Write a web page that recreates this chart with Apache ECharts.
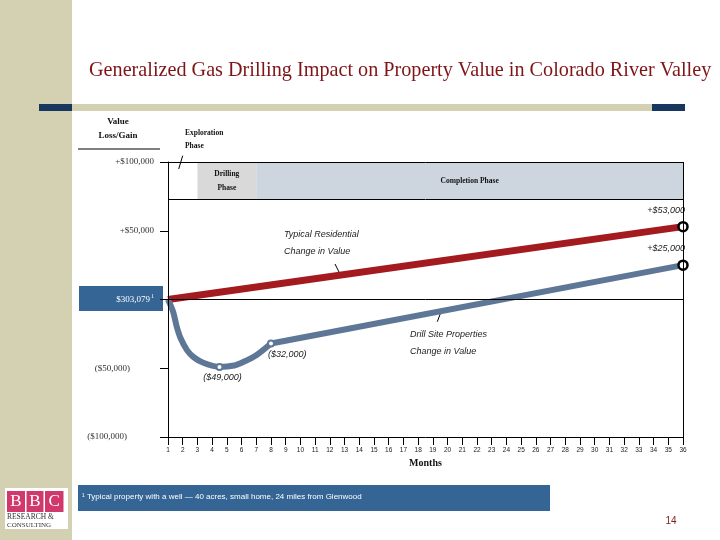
<!DOCTYPE html>
<html><head><meta charset="utf-8">
<script src="https://cdn.jsdelivr.net/npm/echarts@6/dist/echarts.min.js"></script>
<style>html,body{margin:0;padding:0;background:#fff}#c{width:720px;height:540px}</style>
</head><body><div id="c"></div>
<script>
// ---- data ----
const months = Array.from({length:36}, (_, i) => String(i + 1));
const residential = [[1, 0], [36, 53000]];
const drillCurve = [[1, 0], [1.35, -9000], [1.6, -20000], [1.85, -28000], [2.3, -37000], [2.75, -42000], [3.4, -46000], [4.5, -49000], [5.5, -48000], [6.1, -45500], [7, -40500], [8, -32000]];
const drillLinear = [[8, -32000], [36, 25000]];
const yTickLabels = {'100000': '+$100,000', '50000': '+$50,000', '0': '$303,079', '-50000': '($50,000)', '-100000': '($100,000)'};
const phaseNames = ['Drilling\nPhase', 'Completion Phase'];
const phaseStart = [3, 7];
const phaseEnd = [7, 36];
const phaseBand = [73000, 100000];
const refLinesY = [0, 73000, 100000];

const RED = '#a31a1f', BLUE = '#5f7796';
const fmt = v => Math.abs(v).toLocaleString('en-US');
const chart = echarts.init(document.getElementById('c'));

const serifB = {fontFamily: 'Liberation Serif', fontWeight: 'bold', color: '#111'};
const ital = {fontFamily: 'Liberation Sans', fontStyle: 'italic', fontSize: 9, color: '#222'};

function endItem(d) {
  return {value: d, symbol: 'circle', symbolSize: 9,
    itemStyle: {color: '#fff', borderColor: '#000', borderWidth: 2.5},
    label: {show: true, position: 'top', distance: 6, align: 'right', offset: [2, 0],
      formatter: p => (p.value[1] >= 0 ? '+$' : '($') + fmt(p.value[1]) + (p.value[1] >= 0 ? '' : ')'), ...ital}};
}
function midItem(d, lab) {
  return {value: d, symbol: 'circle', symbolSize: 6,
    itemStyle: {color: '#fff', borderColor: BLUE, borderWidth: 2},
    label: Object.assign({show: true, position: 'bottom', distance: 2,
      formatter: p => '($' + fmt(p.value[1]) + ')', ...ital}, lab)};
}

chart.setOption({
  animation: false,
  title: {text: 'Generalized Gas Drilling Impact on Property Value in Colorado River Valley',
    left: 84, top: 56, textStyle: {fontFamily: 'Liberation Serif', fontSize: 20.2, fontWeight: 'normal', color: '#7f1416'}},
  grid: {left: 168, right: 37, top: 162, bottom: 103, show: false},
  xAxis: {type: 'value', min: 1, max: 36, interval: 1,
    name: 'Months', nameLocation: 'middle', nameGap: 21,
    nameTextStyle: {fontFamily: 'Liberation Serif', fontWeight: 'bold', fontSize: 10, color: '#111'},
    axisLine: {onZero: false, lineStyle: {color: '#000', width: 1}},
    axisTick: {length: 8, lineStyle: {color: '#000'}},
    axisLabel: {margin: 10, fontSize: 6.5, color: '#222', fontFamily: 'Liberation Sans',
      formatter: v => months[v - 1] || ''},
    splitLine: {show: false}},
  yAxis: {type: 'value', min: -100000, max: 100000, interval: 50000, z: 10,
    axisLine: {show: true, lineStyle: {color: '#000', width: 1}},
    axisTick: {show: true, length: 8, lineStyle: {color: '#000'}},
    splitLine: {show: false},
    axisLabel: {margin: 14,
      formatter: v => {
        const t = yTickLabels[String(v)];
        if (v === 0) return '{z|' + t + '}{s|1}';
        if (v === -50000) return '{n1|' + t + '}';
        if (v === -100000) return '{n2|' + t + '}';
        return '{p|' + t + '}';
      },
      rich: {
        p: {fontFamily: 'Liberation Serif', fontSize: 9, color: '#333'},
        n1: {fontFamily: 'Liberation Serif', fontSize: 9, color: '#333', padding: [0, 24, 0, 0]},
        n2: {fontFamily: 'Liberation Serif', fontSize: 9, color: '#333', padding: [0, 27, 0, 0]},
        z: {fontFamily: 'Liberation Serif', fontSize: 9, color: '#fff'},
        s: {fontFamily: 'Liberation Serif', fontSize: 6, color: '#fff', padding: [0, 0, 6, 1]}
      }}},
  series: [
    {type: 'line', data: [[1, 0]], symbol: 'none', lineStyle: {width: 0}, z: 1, silent: true,
      markArea: {silent: true,
        label: {position: 'inside', fontSize: 7.5, lineHeight: 14, ...serifB},
        data: phaseNames.map((n, i) => [
          {name: n, xAxis: phaseStart[i], yAxis: phaseBand[0], itemStyle: {color: i === 0 ? '#d9d9d9' : '#cdd6df'}},
          {xAxis: phaseEnd[i], yAxis: phaseBand[1]}])}},
    {type: 'line', data: [[1, 0]], symbol: 'none', lineStyle: {width: 0}, z: 1, silent: true,
      markLine: {silent: true, symbol: 'none', label: {show: false},
        lineStyle: {color: '#000', width: 1, type: 'solid'},
        data: refLinesY.map(y => ({yAxis: y})).concat([{xAxis: 36}])}},
    {type: 'line', name: 'Typical Residential', z: 2, showSymbol: true, showAllSymbol: true,
      lineStyle: {color: RED, width: 7}, itemStyle: {color: RED},
      data: residential.map((d, i) => i === residential.length - 1 ? endItem(d) : {value: d, symbol: 'none'})},
    {type: 'line', name: 'Drill Site curve', z: 3, smooth: 0.3, showSymbol: true, showAllSymbol: true,
      lineStyle: {color: BLUE, width: 6}, itemStyle: {color: BLUE},
      data: drillCurve.map(d => d[0] === 4.5 ? midItem(d, {offset: [3, 0]}) : {value: d, symbol: 'none'})},
    {type: 'line', name: 'Drill Site linear', z: 3, showSymbol: true, showAllSymbol: true,
      lineStyle: {color: BLUE, width: 6}, itemStyle: {color: BLUE},
      data: drillLinear.map((d, i) => i === 0 ? midItem(d, {align: 'left', offset: [-3, 0]}) : endItem(d))}
  ],
  graphic: [
    {type: 'rect', shape: {x: 0, y: 0, width: 72, height: 540}, style: {fill: '#d3d1b1'}, z: -1},
    {type: 'rect', shape: {x: 72, y: 104, width: 580, height: 7}, style: {fill: '#d3d1b1'}, z: -1},
    {type: 'rect', shape: {x: 652, y: 104, width: 33, height: 7}, style: {fill: '#17375e'}, z: -1},
    {type: 'rect', shape: {x: 39, y: 104, width: 33, height: 7}, style: {fill: '#17375e'}, z: -1},
    {type: 'rect', shape: {x: 79, y: 286, width: 84, height: 25}, style: {fill: '#346595'}, z: -1},
    {type: 'text', x: 118, y: 122, style: {text: 'Value', fontSize: 9, align: 'center', verticalAlign: 'middle', ...serifB, fill: '#111'}},
    {type: 'text', x: 118, y: 136, style: {text: 'Loss/Gain', fontSize: 9, align: 'center', verticalAlign: 'middle', ...serifB, fill: '#111'}},
    {type: 'line', shape: {x1: 78, y1: 149, x2: 160, y2: 149}, style: {stroke: '#000', lineWidth: 1}},
    {type: 'text', x: 185, y: 133, style: {text: 'Exploration', fontSize: 7.5, verticalAlign: 'middle', ...serifB, fill: '#111'}},
    {type: 'text', x: 185, y: 146, style: {text: 'Phase', fontSize: 7.5, verticalAlign: 'middle', ...serifB, fill: '#111'}},
    {type: 'line', shape: {x1: 182.7, y1: 155.7, x2: 178.7, y2: 169}, style: {stroke: '#000', lineWidth: 1}},
    {type: 'text', x: 284, y: 234, style: {text: 'Typical Residential', verticalAlign: 'middle', ...ital, fill: '#222'}},
    {type: 'text', x: 284, y: 251, style: {text: 'Change in Value', verticalAlign: 'middle', ...ital, fill: '#222'}},
    {type: 'line', shape: {x1: 335, y1: 264, x2: 339.5, y2: 273}, style: {stroke: '#000', lineWidth: 1}},
    {type: 'text', x: 410, y: 334, style: {text: 'Drill Site Properties', verticalAlign: 'middle', ...ital, fill: '#222'}},
    {type: 'text', x: 410, y: 351, style: {text: 'Change in Value', verticalAlign: 'middle', ...ital, fill: '#222'}},
    {type: 'line', shape: {x1: 440.7, y1: 312.7, x2: 437.3, y2: 321.7}, style: {stroke: '#000', lineWidth: 1}},
    {type: 'rect', shape: {x: 78, y: 485, width: 472, height: 26}, style: {fill: '#346595'}},
    {type: 'text', x: 82, y: 497, style: {text: '\u00B9 Typical property with a well \u2014 40 acres, small home, 24 miles from Glenwood',
      fontFamily: 'Liberation Sans', fontSize: 8, fill: '#fff', verticalAlign: 'middle'}},
    {type: 'text', x: 671, y: 521, style: {text: '14', fontFamily: 'Liberation Sans', fontSize: 10, fill: '#7b2323', align: 'center', verticalAlign: 'middle'}},
    {type: 'rect', shape: {x: 5, y: 488, width: 63, height: 41}, style: {fill: '#fff'}},
    {type: 'rect', shape: {x: 7, y: 491, width: 18, height: 21}, style: {fill: '#d1386c'}},
    {type: 'rect', shape: {x: 26.5, y: 491, width: 17, height: 21}, style: {fill: '#d1386c'}},
    {type: 'rect', shape: {x: 45, y: 491, width: 18.5, height: 21}, style: {fill: '#d1386c'}},
    {type: 'text', x: 16, y: 502, style: {text: 'B', fontFamily: 'Liberation Serif', fontSize: 17, fill: '#fff', align: 'center', verticalAlign: 'middle'}},
    {type: 'text', x: 35, y: 502, style: {text: 'B', fontFamily: 'Liberation Serif', fontSize: 17, fill: '#fff', align: 'center', verticalAlign: 'middle'}},
    {type: 'text', x: 54.2, y: 502, style: {text: 'C', fontFamily: 'Liberation Serif', fontSize: 17, fill: '#fff', align: 'center', verticalAlign: 'middle'}},
    {type: 'text', x: 7, y: 517, style: {text: 'RESEARCH &', fontFamily: 'Liberation Serif', fontSize: 7.5, fill: '#333', verticalAlign: 'middle'}},
    {type: 'text', x: 7, y: 525, style: {text: 'CONSULTING', fontFamily: 'Liberation Serif', fontSize: 7, fill: '#333', verticalAlign: 'middle'}}
  ]
});
</script></body></html>
